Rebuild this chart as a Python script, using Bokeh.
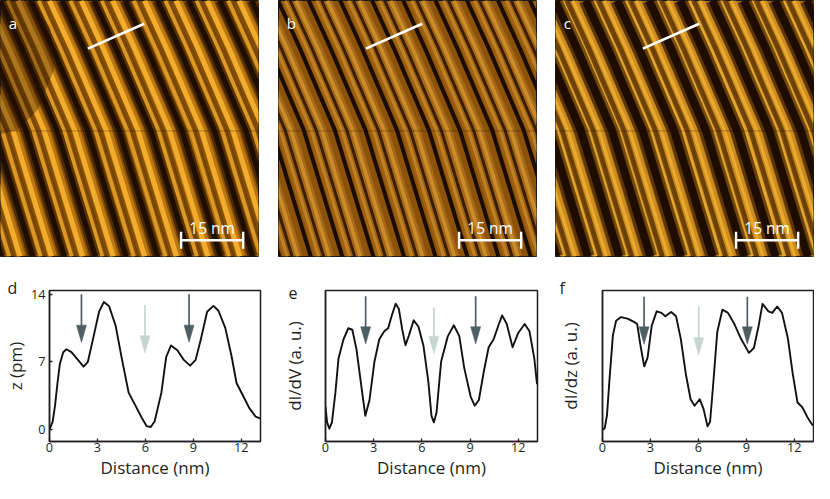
from bokeh.plotting import figure
from bokeh.layouts import row, column
from bokeh.models import Range1d, FixedTicker, Label
from bokeh.embed import file_html
from bokeh.resources import INLINE

# ---------------- data: line profiles ----------------
d_x = [0.0, 0.2, 0.35, 0.5, 0.65, 0.86, 1.06, 1.37, 1.78, 2.13, 2.4, 2.7, 3.1, 3.4, 3.72, 4.13, 4.54, 4.95, 5.36, 5.77,
       6.07, 6.34, 6.58, 7.0, 7.3, 7.6, 8.0, 8.4, 8.8, 9.14, 9.45, 9.86, 10.26, 10.57, 11.0, 11.4, 11.7, 12.1, 12.5, 12.9, 13.2]
d_z = [0.0, 0.8, 2.5, 4.8, 6.8, 8.0, 8.3, 8.0, 7.2, 6.5, 7.0, 9.2, 12.2, 13.2, 12.8, 10.8, 7.2, 3.8, 2.5, 1.2,
       0.33, 0.23, 0.83, 3.8, 7.5, 8.7, 8.2, 7.2, 6.6, 7.2, 9.2, 12.2, 12.8, 12.3, 10.5, 7.5, 4.8, 3.5, 2.2, 1.3, 1.1]

e_x = [0.0, 0.1, 0.24, 0.4, 0.61, 0.81, 1.12, 1.42, 1.67, 1.93, 2.24, 2.48, 2.74, 3.05, 3.35, 3.66, 3.9, 4.1, 4.37, 4.57,
       4.78, 4.98, 5.18, 5.49, 5.79, 6.1, 6.4, 6.6, 6.75, 6.91, 7.2, 7.62, 7.99, 8.33, 8.64, 9.04, 9.29, 9.55, 9.86, 10.16,
       10.47, 10.77, 11.0, 11.28, 11.65, 12.0, 12.4, 12.7, 13.0, 13.17]
e_v = [23, 12.7, 8.5, 12.7, 31.7, 55, 67.7, 75, 74, 61, 36, 17, 27.5, 53, 67.7, 73, 75, 82.5, 91.3, 87.7,
       74, 63.8, 69.8, 80.3, 76, 63.4, 40, 17, 12.7, 19, 53, 69.8, 77, 69.8, 48.6, 29.6, 23.7, 27.5, 46.5, 62.4,
       67.7, 77, 83.5, 78, 62.4, 71.9, 77.8, 73, 55, 38]

f_x = [0.04, 0.14, 0.28, 0.45, 0.65, 0.85, 1.16, 1.56, 1.97, 2.17, 2.37, 2.61, 2.82, 3.08, 3.39, 3.69, 3.93, 4.3, 4.6, 4.9,
       5.21, 5.51, 5.76, 6.08, 6.32, 6.57, 6.73, 6.93, 7.18, 7.5, 7.85, 8.25, 8.66, 9.16, 9.47, 9.77, 10.01, 10.38, 10.62, 10.93,
       11.23, 11.6, 11.9, 12.2, 12.5, 12.81, 13.1, 13.2]
f_v = [7.8, 8.9, 17.4, 42.8, 70.3, 79.9, 82.4, 81.4, 79.2, 77.8, 64, 49.8, 55.5, 76.7, 86.2, 85.2, 83, 85.8, 83, 67.8,
       44.9, 28, 23.7, 28, 21.6, 10, 13.1, 38.6, 72.5, 87.3, 85.2, 77.8, 68.2, 58.7, 61.9, 76.7, 91.1, 86.2, 85.2, 89.4,
       85.2, 68.2, 44.9, 25.8, 22.7, 16.3, 11.4, 10.5]

# arrows (x position, top, tip, tone)
d_arrow_x = [2.0, 5.97, 8.73]
d_arrow_top = [14.0, 12.9, 14.0]
d_arrow_tip = [9.0, 7.9, 9.0]
e_arrow_x = [2.5, 6.75, 9.35]
e_arrow_top = [96.2, 88.8, 96.2]
e_arrow_tip = [64.5, 58.2, 64.5]
f_arrow_x = [2.6, 6.02, 9.06]
f_arrow_top = [95.8, 89.4, 95.8]
f_arrow_tip = [64.4, 57.2, 64.4]
arrow_tone = ["dark", "light", "dark"]

x_ticks = [0, 3, 6, 9, 12]
d_y_ticks = [0, 7, 14]

# ---------------- data: STM image stripes (nm) ----------------
img_w_nm = 62.3
img_h_nm = 62.8
# stripe positions where they cross the profile height (y = 51 nm)
major_x51 = [-20.6, -13.0, -5.4, 2.1, 9.5, 17.1, 24.8, 32.4, 40.1, 47.7, 55.2, 62.9, 70.4]
minor_x51 = [-23.2, -15.6, -8.0, -0.5, 6.9, 14.5, 22.2, 29.7, 37.5, 45.1, 52.6, 60.3, 67.8]
deep_x51 = [-17.5, -9.9, -2.3, 5.2, 12.6, 20.2, 27.9, 35.4, 43.2, 50.8, 58.3, 66.0, 73.5]
shallow_x51 = [-22.0, -14.4, -6.8, 0.7, 8.1, 15.7, 23.4, 30.9, 38.7, 46.3, 53.8, 61.5, 69.0]
# stripe bending (curved stripes)
bend_y = [62.8, 51.0, 31.0, 0.0]
bend_dx = [-5.3, 0.0, 8.4, 17.7]
# profile line and scale bar
profile_x = [21.1, 34.7]
profile_y = [51.0, 57.1]
scalebar_x0 = 43.6
scalebar_len = 15.0
scalebar_y = 4.0
scan_line_y = [30.8]
defect_x = [0, 8, 12, 13, 9, 4, 0]
defect_y = [62.8, 62.8, 56, 46, 36, 31, 30]

FONT = "Open Sans"
TXT = "#231f20"


def stripes(pos):
    xs = [[p + dx for dx in bend_dx] for p in pos]
    ys = [list(bend_y) for _ in pos]
    return xs, ys


def image_fig(letter, right, bg, layers, defect=None):
    p = figure(width=258 + right, height=271, x_range=Range1d(0, img_w_nm), y_range=Range1d(0, img_h_nm),
               x_axis_location=None, y_axis_location=None, output_backend="svg", toolbar_location=None,
               min_border_left=0, min_border_right=right, min_border_top=0, min_border_bottom=15)
    p.grid.visible = False
    p.outline_line_color = "#1a1a1a"
    p.outline_line_width = 1
    p.border_fill_color = "white"
    p.background_fill_color = bg
    srcs = {"shallow": shallow_x51, "deep": deep_x51, "minor": minor_x51, "major": major_x51}
    for key, col, w, alpha in layers:
        xs, ys = stripes(srcs[key])
        p.multi_line(xs, ys, line_color=col, line_width=w, line_alpha=alpha)
    if defect is not None:
        p.patch(defect_x, defect_y, fill_color=defect, fill_alpha=0.35, line_color=None)
    for yv in scan_line_y:
        p.segment(0, yv, img_w_nm, yv, line_color="#1a0a00", line_width=1, line_alpha=0.3)
    # profile line
    p.line(profile_x, profile_y, line_color="white", line_width=2.6)
    # scale bar
    x1 = scalebar_x0 + scalebar_len
    p.segment(scalebar_x0, scalebar_y, x1, scalebar_y, line_color="white", line_width=2.4)
    p.segment([scalebar_x0, x1], [scalebar_y - 2.1, scalebar_y - 2.1], [scalebar_x0, x1], [scalebar_y + 2.1, scalebar_y + 2.1],
              line_color="white", line_width=2.4)
    p.add_layout(Label(x=scalebar_x0 + scalebar_len / 2, y=scalebar_y + 3.0, text="15 nm", text_align="center",
                       text_baseline="alphabetic", text_color="white", text_font=FONT, text_font_size="15.5px"))
    p.add_layout(Label(x=2.0, y=57.4, text=letter, text_align="left", text_baseline="alphabetic",
                       text_color="white", text_font=FONT, text_font_size="15px"))
    return p


layers_a = [("minor", "#d08818", 8, 0.5), ("major", "#e8981c", 11, 0.55), ("minor", "#e29e28", 3.5, 0.9),
            ("major", "#f4b030", 5, 0.95), ("shallow", "#4a2800", 5, 0.5), ("deep", "#201000", 10, 0.6),
            ("deep", "#1a0a00", 5, 0.9)]
layers_b = [("minor", "#b07018", 8, 0.5), ("major", "#c0802a", 9, 0.5), ("minor", "#c88a2a", 3, 0.8),
            ("major", "#d4952e", 3.5, 0.8), ("shallow", "#2a1400", 3, 0.85), ("deep", "#140800", 4, 0.95)]
layers_c = [("minor", "#dc9a24", 9, 0.6), ("major", "#e6a42a", 9, 0.6), ("minor", "#eeaf34", 3, 0.8),
            ("major", "#f0b238", 3, 0.8), ("shallow", "#4a2804", 5, 0.7), ("deep", "#2a1400", 14, 0.6),
            ("deep", "#180800", 8, 0.9)]

fig_a = image_fig("a", 20, "#8a5005", layers_a, defect="#2a1200")
fig_b = image_fig("b", 19, "#8c520a", layers_b)
fig_c = image_fig("c", 1, "#a86a0c", layers_c)


def line_fig(xs, ys, y_range, ylabel, yticks, letter, letter_offset, ax, atop, atip, left, right, width, label_standoff):
    frame_w = width - left - right
    frame_h = 151
    p = figure(width=width, height=212, x_range=Range1d(0, 13.2), y_range=Range1d(*y_range),
               output_backend="svg", toolbar_location=None, title=letter,
               min_border_left=left, min_border_right=right, min_border_top=19, min_border_bottom=42)
    p.title.align = "left"
    p.title.offset = letter_offset
    p.title.standoff = -17
    p.title.text_font = FONT
    p.title.text_font_size = "16px"
    p.title.text_font_style = "normal"
    p.title.text_color = TXT
    p.grid.visible = False
    p.outline_line_color = TXT
    p.outline_line_width = 1.5
    p.background_fill_color = "white"
    p.border_fill_color = "white"
    p.xaxis.ticker = FixedTicker(ticks=x_ticks)
    p.yaxis.ticker = FixedTicker(ticks=yticks)
    p.xaxis.axis_label = "Distance (nm)"
    p.yaxis.axis_label = ylabel
    for a in p.axis:
        a.axis_line_color = TXT
        a.axis_line_width = 1.5
        a.major_tick_in = 3
        a.major_tick_out = 0
        a.major_tick_line_color = TXT
        a.major_tick_line_width = 1.3
        a.minor_tick_line_color = None
        a.major_label_text_font = FONT
        a.major_label_text_font_size = "12.7px"
        a.major_label_text_color = TXT
        a.axis_label_text_font = FONT
        a.axis_label_text_font_size = "17px"
        a.axis_label_text_font_style = "normal"
        a.axis_label_text_color = TXT
    p.xaxis.major_label_standoff = 1
    p.xaxis.axis_label_standoff = 1
    p.yaxis.major_label_standoff = 4
    p.yaxis.axis_label_standoff = label_standoff

    # arrows
    xspan = 13.2
    yspan = y_range[1] - y_range[0]
    hw = 5.0 * xspan / frame_w
    hh = 17.4 * yspan / frame_h
    colors = {"dark": "#4d5f63", "light": "#c6d5d2"}
    for x0, t0, tip, tone in zip(ax, atop, atip, arrow_tone):
        c = colors[tone]
        p.segment(x0, t0, x0, tip + hh * 0.8, line_color=c, line_width=1.7)
        p.patch([x0 - hw, x0 + hw, x0], [tip + hh, tip + hh, tip], fill_color=c, line_color=c, line_width=0.5)

    p.line(xs, ys, line_color="#111111", line_width=1.9, line_join="round")
    return p


fig_d = line_fig(d_x, d_z, (-1.27, 14.4), "z (pm)", d_y_ticks, "d", -42,
                 d_arrow_x, d_arrow_top, d_arrow_tip, 48, 18, 278, 1)
fig_e = line_fig(e_x, e_v, (0, 100), "dI/dV (a. u.)", [], "e", -37,
                 e_arrow_x, e_arrow_top, e_arrow_tip, 47, 18, 277, 20)
fig_f = line_fig(f_x, f_v, (0, 100), "dI/dz (a. u.)", [], "f", -43,
                 f_arrow_x, f_arrow_top, f_arrow_tip, 46, 1, 259, 21)

layout = column(row(fig_a, fig_b, fig_c, spacing=0), row(fig_d, fig_e, fig_f, spacing=0), spacing=0)
open("out.html", "w").write(file_html(layout, INLINE))
